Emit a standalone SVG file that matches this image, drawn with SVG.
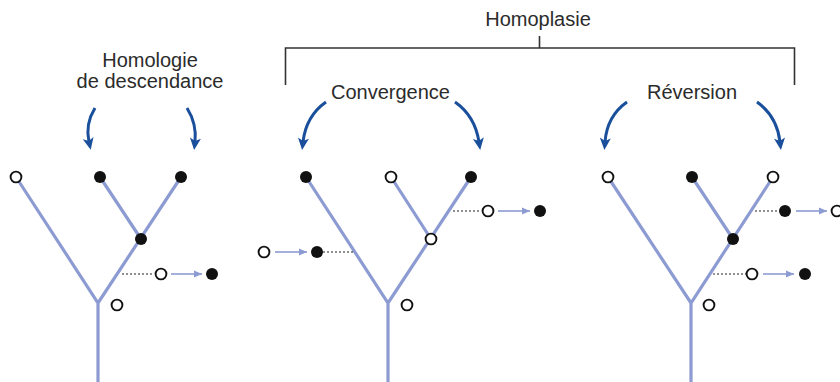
<svg xmlns="http://www.w3.org/2000/svg" width="840" height="382" viewBox="0 0 840 382">
  <style>
    .lbl { font-family: "Liberation Sans", Arial, sans-serif; font-size: 20px; fill: #2b2b2b; text-anchor: middle; }
    .br { fill: none; stroke: #333; stroke-width: 1.6; }
    .cv { fill: none; stroke: #1a4f9c; stroke-width: 3; marker-end: url(#big); }
    .tr { fill: none; stroke: #8d9bd3; stroke-width: 3.2; stroke-linecap: butt; stroke-linejoin: miter; }
    .sa { fill: none; stroke: #8d9bd3; stroke-width: 1.6; marker-end: url(#small); }
    .ds { fill: none; stroke: #222; stroke-width: 1.1; stroke-dasharray: 2 2; }
    .op { fill: #fff; stroke: #111; stroke-width: 1.9; }
    .fl { fill: #111; stroke: none; }
  </style>
  <defs>
    <marker id="big" markerUnits="userSpaceOnUse" viewBox="-6 -8 16 16" markerWidth="16" markerHeight="16" refX="0" refY="0" orient="auto">
      <path d="M8,0 L-4,-5.5 L-1,0 L-4,5.5 Z" fill="#1a4f9c"/>
    </marker>
    <marker id="small" markerUnits="userSpaceOnUse" viewBox="-10 -5 12 10" markerWidth="12" markerHeight="10" refX="0" refY="0" orient="auto">
      <path d="M0,0 L-8,-3.5 L-8,3.5 Z" fill="#8d9bd3"/>
    </marker>
  </defs>

  <g id="label-homologie">
    <text class="lbl" x="150" y="67">Homologie</text>
    <text class="lbl" x="150" y="88">de descendance</text>
  </g>
  <g id="label-homoplasie">
    <text class="lbl" x="538" y="26">Homoplasie</text>
  </g>
  <g id="label-convergence">
    <text class="lbl" x="390.5" y="99">Convergence</text>
  </g>
  <g id="label-reversion">
    <text class="lbl" x="692" y="99">Réversion</text>
  </g>

  <g id="connectors">
    <path class="br" d="M285.5,85 V48 H794.5 V85 M539.5,36 V48"/>
    <path class="cv" d="M95,108 Q85,124 89,142"/>
    <path class="cv" d="M187,108 Q197,124 195,142"/>
    <path class="cv" d="M326,102 Q306,116 303,142"/>
    <path class="cv" d="M455,102 Q475,116 479,142"/>
    <path class="cv" d="M627,102 Q607,116 605,142"/>
    <path class="cv" d="M757,102 Q777,116 780,142"/>
  </g>

  <g id="tree-homologie">
    <path class="tr" d="M16,177 L98,303 L181,177 M100,177 L141,239 M98,302 V384"/>
    <path class="ds" d="M122,274 H154"/>
    <path class="sa" d="M171,274 H202"/>
    <circle class="op" cx="16" cy="177" r="5.4"/>
    <circle class="fl" cx="100" cy="177" r="6"/>
    <circle class="fl" cx="181" cy="177" r="6"/>
    <circle class="fl" cx="141" cy="239" r="6"/>
    <circle class="op" cx="117" cy="305" r="5.4"/>
    <circle class="op" cx="161" cy="274" r="5.4"/>
    <circle class="fl" cx="212" cy="274" r="6"/>
  </g>

  <g id="tree-convergence">
    <path class="tr" d="M306,177 L388,303 L471,177 M391,177 L431,239 M388,302 V384"/>
    <path class="ds" d="M453,211 H481"/>
    <path class="sa" d="M498,211 H530"/>
    <path class="sa" d="M275,252 H307"/>
    <path class="ds" d="M323,252 H353"/>
    <circle class="fl" cx="306" cy="177" r="6"/>
    <circle class="op" cx="391" cy="177" r="5.4"/>
    <circle class="fl" cx="471" cy="177" r="6"/>
    <circle class="op" cx="431" cy="239" r="5.4"/>
    <circle class="op" cx="407" cy="305" r="5.4"/>
    <circle class="op" cx="488" cy="211" r="5.4"/>
    <circle class="fl" cx="540" cy="211" r="6"/>
    <circle class="op" cx="264" cy="252" r="5.4"/>
    <circle class="fl" cx="317" cy="252" r="6"/>
  </g>

  <g id="tree-reversion">
    <path class="tr" d="M608,177 L691,303 L773,177 M692,177 L733,239 M691,302 V384"/>
    <path class="ds" d="M755,211 H779"/>
    <path class="sa" d="M796,211 H827"/>
    <path class="ds" d="M713,274 H746"/>
    <path class="sa" d="M763,274 H794"/>
    <circle class="op" cx="608" cy="177" r="5.4"/>
    <circle class="fl" cx="692" cy="177" r="6"/>
    <circle class="op" cx="773" cy="177" r="5.4"/>
    <circle class="fl" cx="733" cy="239" r="6"/>
    <circle class="op" cx="709" cy="305" r="5.4"/>
    <circle class="fl" cx="785" cy="211" r="6"/>
    <circle class="op" cx="837" cy="211" r="5.4"/>
    <circle class="op" cx="752" cy="274" r="5.4"/>
    <circle class="fl" cx="805" cy="274" r="6"/>
  </g>
</svg>
